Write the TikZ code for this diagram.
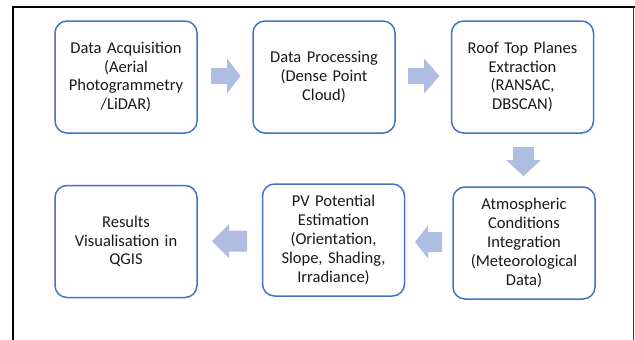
\documentclass[tikz,border=0pt]{standalone}
\usepackage{fontspec}
\setmainfont{Carlito}
\definecolor{boxblue}{HTML}{4472C4}
\definecolor{arrowfill}{HTML}{AFBDE2}
\tikzset{
  stepbox/.style={draw=boxblue, line width=1.5pt, rounded corners=12pt, fill=white,
    minimum width=142pt, minimum height=112pt, align=center, text width=138pt,
    inner sep=0pt, font=\fontsize{16.5pt}{18.8pt}\selectfont, text=black!90},
  blockarrow/.style={fill=arrowfill, draw=none}
}
\begin{document}
\begin{tikzpicture}[x=1pt,y=-1pt]
\useasboundingbox (0,0) rectangle (635,340);
% frame
\draw[line width=2.4pt, black] (13,345) -- (13,7) -- (640,7);
\draw[line width=0.9pt, black!75] (633.5,7) -- (633.5,345);
% boxes
\node[stepbox] (b1) at (126,77) {Data Acquisition\\(Aerial\\Photogrammetry\\/LiDAR)};
\node[stepbox] (b2) at (324,77) {Data Processing\\(Dense Point\\Cloud)};
\node[stepbox] (b3) at (522.5,77) {Roof Top Planes\\Extraction\\(RANSAC,\\DBSCAN)};
\node[stepbox] (b4) at (524,243) {Atmospheric\\Conditions\\Integration\\(Meteorological\\Data)};
\node[stepbox] (b5) at (333.5,240) {PV Potential\\Estimation\\(Orientation,\\Slope, Shading,\\Irradiance)};
\node[stepbox] (b6) at (126,241.5) {Results\\Visualisation in\\QGIS};
% block arrows
\fill[blockarrow] (211,68) -- (227,68) -- (227,58.5) -- (240.5,76) -- (227,93.5) -- (227,84) -- (211,84) -- cycle;
\fill[blockarrow] (408,68) -- (424,68) -- (424,58.5) -- (439.5,76) -- (424,93.5) -- (424,84) -- (408,84) -- cycle;
\fill[blockarrow] (513,147) -- (534,147) -- (534,160) -- (541,160) -- (523.5,176) -- (506,160) -- (513,160) -- cycle;
\fill[blockarrow] (247,230.5) -- (229,230.5) -- (229,224) -- (212,241) -- (229,258) -- (229,251.5) -- (247,251.5) -- cycle;
\fill[blockarrow] (442,232) -- (428,232) -- (428,225.5) -- (415,242) -- (428,258.5) -- (428,252) -- (442,252) -- cycle;
\end{tikzpicture}
\end{document}
